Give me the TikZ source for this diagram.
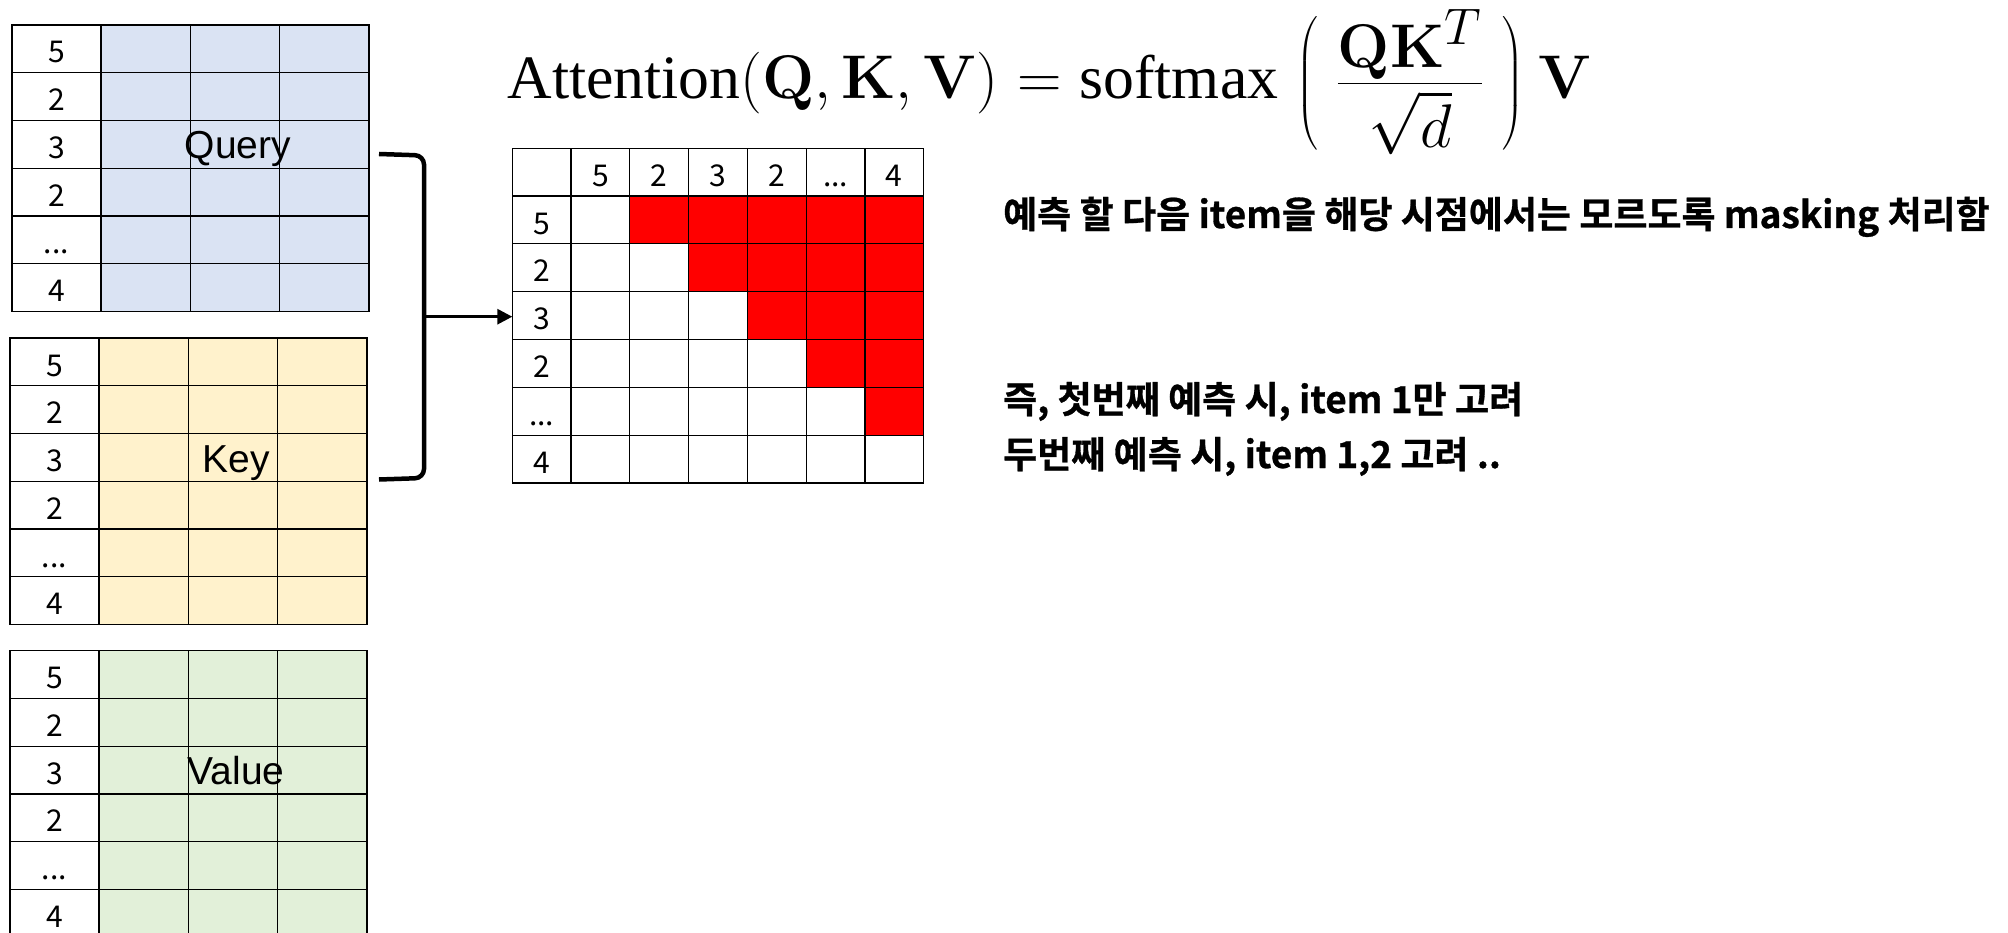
\documentclass[tikz,border=0pt]{standalone}
\usepackage[no-math]{fontspec}
\setmainfont{Liberation Serif}
\newfontfamily\numfont{Noto Sans CJK KR}
\newfontfamily\lblfont{Liberation Sans}
\newfontfamily\krfont{Noto Sans CJK KR Bold}[FakeBold=0.8]
\usetikzlibrary{arrows.meta}

\definecolor{qfill}{HTML}{DAE3F3}
\definecolor{kfill}{HTML}{FFF2CC}
\definecolor{vfill}{HTML}{E2F0D9}
\definecolor{mred}{HTML}{FF0000}

\tikzset{
  gridline/.style={draw=black, line width=1.2pt, line cap=rect},
  numtxt/.style={font=\numfont\fontsize{30}{36}\selectfont, anchor=base, inner sep=0pt},
  lbltxt/.style={font=\lblfont\fontsize{39}{46}\selectfont, anchor=base, inner sep=0pt},
  krtxt/.style={font=\krfont\fontsize{37}{44}\selectfont, anchor=base west, inner sep=0pt},
  bracketline/.style={line width=4.5pt, rounded corners=9pt},
  arrowline/.style={line width=3pt, -{Triangle[length=15pt,width=15pt]}},
}

\newcommand\tridot{...}

% name, x0, y0, fill, label
\newcommand\qkvtable[5]{%
  \fill[#4] ({#2+89},#3) rectangle ({#2+357},{#3+6*47.75});
  \foreach \i in {0,...,6}
    \draw[gridline] (#2,{#3+\i*47.75}) -- ({#2+357},{#3+\i*47.75});
  \foreach \xx in {0,89,178.5,267.5,357}
    \draw[gridline] ({#2+\xx},#3) -- ({#2+\xx},{#3+6*47.75});
  \foreach \v [count=\i] in {5,2,3,2,\tridot,4}
    \node[numtxt] (#1-r\i) at ({#2+44.5},{#3+(\i-1)*47.75+38}) {\v};
  \node[lbltxt] (#1-lbl) at ({#2+226},{#3+134}) {#5};
}

\begin{document}
\begin{tikzpicture}[x=1pt,y=-1pt]
  \path[use as bounding box] (0,0) rectangle (2008,933);
  \clip (0,0) rectangle (2008,933);

  % Query / Key / Value tables
  \qkvtable{query}{12}{25}{qfill}{Query}
  \qkvtable{key}{10}{338}{kfill}{Key}
  \qkvtable{value}{10}{650.7}{vfill}{Value}

  % attention matrix
  \foreach \i in {1,...,5}
    \fill[mred] ({512.3+(\i+1)*58.77},{148.3+\i*47.8}) rectangle (923.7,{148.3+(\i+1)*47.8});
  \foreach \i in {0,...,7}
    \draw[gridline] (512.3,{148.3+\i*47.8}) -- (923.7,{148.3+\i*47.8});
  \foreach \j in {0,...,7}
    \draw[gridline] ({512.3+\j*58.77},148.3) -- ({512.3+\j*58.77},{148.3+7*47.8});
  \foreach \v [count=\j] in {5,2,3,2,\tridot,4}
    \node[numtxt] (mh\j) at ({512.3+(\j+0.5)*58.77},{148.3+38}) {\v};
  \foreach \v [count=\i] in {5,2,3,2,\tridot,4}
    \node[numtxt] (mr\i) at ({512.3+0.5*58.77},{148.3+\i*47.8+38}) {\v};

  % bracket and arrow
  \coordinate (btop) at (379,154);
  \coordinate (bbot) at (379,479.5);
  \coordinate (bmid) at (424,316.7);
  \coordinate (mleft) at (512.3,316.7);
  \draw[bracketline] (btop) -- (424,155.5) -- (424,478) -- (bbot);
  \draw[arrowline] (bmid) -- (mleft);

  % formula
  \node[anchor=base west, inner sep=0pt, scale=2.48, transform shape, font=\fontsize{24.88}{30}\selectfont] (formula) at (507,99)
    {$\displaystyle \textrm{Attention}(\mathbf{Q},\mathbf{K},\mathbf{V})\kern1pt = \textrm{softmax}\kern3.2pt\left(\vrule height 34.2pt depth 21.8pt width 0pt\kern6.8pt\frac{\smash{\raisebox{-4pt}{$\mathbf{Q}\mathbf{K}^{T}$}}}{\smash{\raisebox{-2.5pt}{$\sqrt{d}$}}}\kern6.8pt\right)\kern1.7pt\mathbf{V}$};

  % explanation text
  \node[krtxt] (kr1) at (1003,228) {예측 할 다음 item을 해당 시점에서는 모르도록 masking 처리함};
  \node[krtxt] (kr2) at (1003,413) {즉, 첫번째 예측 시, item 1만 고려};
  \node[krtxt] (kr3) at (1003,468) {두번째 예측 시, item 1,2 고려 ..};
\end{tikzpicture}
\end{document}
